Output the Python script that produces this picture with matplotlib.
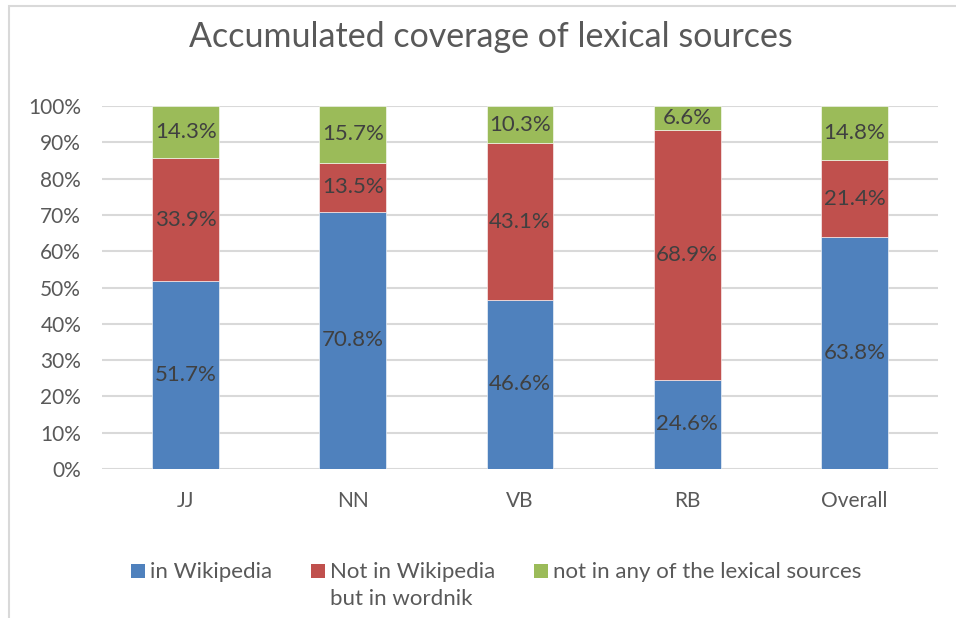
import matplotlib.pyplot as plt
import numpy as np
from matplotlib.patches import Rectangle

plt.rcParams['font.family'] = ['Lato', 'DejaVu Sans']

categories = ["JJ", "NN", "VB", "RB", "Overall"]
in_wiki = [51.7, 70.8, 46.6, 24.6, 63.8]
wordnik_only = [33.9, 13.5, 43.1, 68.9, 21.4]
no_source = [14.3, 15.7, 10.3, 6.6, 14.8]
yticks = [0, 10, 20, 30, 40, 50, 60, 70, 80, 90, 100]

series = [
    ("in Wikipedia", in_wiki, "#4F81BD"),
    ("Not in Wikipedia\nbut in wordnik", wordnik_only, "#C0504D"),
    ("not in any of the lexical sources", no_source, "#9BBB59"),
]
legend_x = [131, 311, 534]  # left edge of each legend swatch, px

W, H = 956, 618
fig = plt.figure(figsize=(W / 100, H / 100), dpi=100)
ax = fig.add_axes([102 / W, 1 - 469 / H, (938 - 102) / W, (469 - 106) / H])

# chart frame (cut off on the right and bottom)
fig.patches.append(Rectangle((9 / W, -0.1), 1.2, 1 - 6 / H + 0.1,
                             transform=fig.transFigure, fill=False,
                             edgecolor="#D9D9D9", lw=1.5))

x = np.arange(len(categories))
bottom = np.zeros(len(categories))
for name, vals, color in series:
    vals = np.array(vals)
    ax.bar(x, vals, 0.4, bottom=bottom, color=color, label=name,
           edgecolor="white", linewidth=0.4, zorder=3)
    for xi, v, b0 in zip(x, vals, bottom):
        ax.text(xi, b0 + v / 2, f"{v:.1f}%", ha="center", va="center",
                fontsize=16, color="#404040", zorder=4)
    bottom += vals

ax.set_xlim(-0.5, 4.5)
ax.set_ylim(0, 100)
ax.set_yticks(yticks)
ax.set_yticklabels([f"{t}%" for t in yticks])
ax.set_xticks(x)
ax.set_xticklabels(categories)
ax.tick_params(length=0, labelsize=15, colors="#595959")
ax.tick_params(axis="x", pad=16)
ax.tick_params(axis="y", pad=15)
for s in ax.spines.values():
    s.set_visible(False)
ax.grid(axis="y", color="#D9D9D9", lw=1.5, zorder=0)
ax.set_axisbelow(True)

fig.text(491 / W, 1 - 37 / H, "Accumulated coverage of lexical sources",
         ha="center", va="center", fontsize=24.5, color="#595959")

# legend drawn by hand so the wrapped label hangs below its swatch
for (name, vals, color), lx in zip(series, legend_x):
    fig.patches.append(Rectangle((lx / W, 1 - 578 / H), 14 / W, 14 / H,
                                 transform=fig.transFigure,
                                 facecolor=color, edgecolor="none"))
    fig.text((lx + 19) / W, 1 - 562 / H, name, ha="left", va="top",
             fontsize=16, color="#595959", linespacing=1.45)

fig.savefig("out.png", dpi=100)
